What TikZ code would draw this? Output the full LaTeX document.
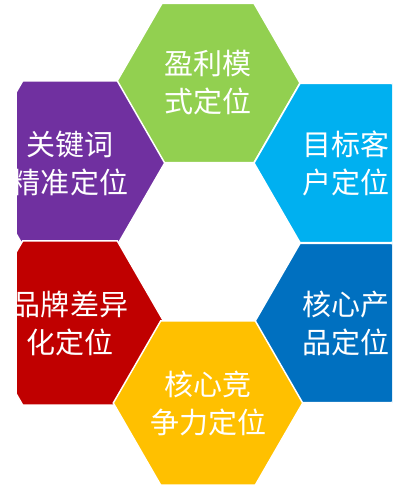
\documentclass[tikz,border=0pt]{standalone}
\usepackage{fontspec}
\newfontfamily\cjk{Noto Sans CJK SC}
\usetikzlibrary{shapes.geometric}

\definecolor{profitgreen}{HTML}{92D050}
\definecolor{keypurple}{HTML}{7030A0}
\definecolor{clientblue}{HTML}{00B0F0}
\definecolor{brandred}{HTML}{C00000}
\definecolor{productblue}{HTML}{0070C0}
\definecolor{coreyellow}{HTML}{FFC000}

\begin{document}
\begin{tikzpicture}[
    x=1pt, y=-1pt,
    hexa/.style={regular polygon, regular polygon sides=6, minimum size=184pt, inner sep=0pt, outer sep=0pt,
        draw=white, line width=1.5pt, text=white, align=center, font=\cjk\fontsize{29}{38}\selectfont}
]
\useasboundingbox (0,0) rectangle (405,487);

\begin{scope}
\clip (17,0) rectangle (392,487);

% Nodes
\node[hexa, fill=profitgreen] (profit) at (208,83) {盈利模\\式定位};
\node[hexa, fill=keypurple] (keyword) at (70,163) {关键词\\精准定位};
\node[hexa, fill=clientblue] (client) at (346,163) {目标客\\户定位};
\node[hexa, fill=brandred] (brand) at (70,323) {品牌差异\\化定位};
\node[hexa, fill=productblue] (product) at (346,323) {核心产\\品定位};
\node[hexa, fill=coreyellow] (core) at (208,403) {核心竞\\争力定位};
\end{scope}

\end{tikzpicture}
\end{document}
